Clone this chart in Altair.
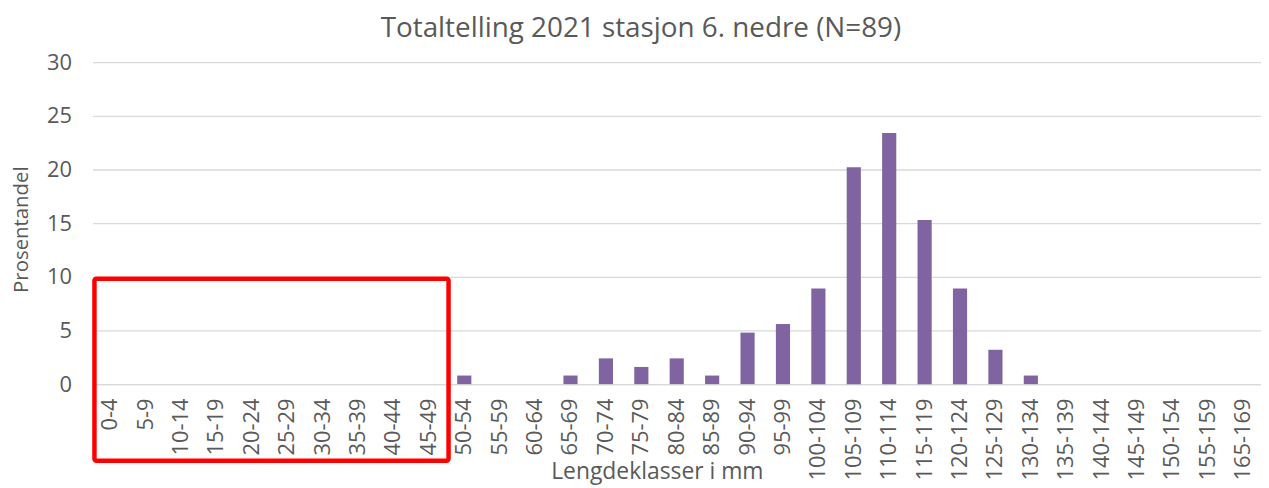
import altair as alt
import pandas as pd

categories = ["0-4", "5-9", "10-14", "15-19", "20-24", "25-29", "30-34", "35-39",
              "40-44", "45-49", "50-54", "55-59", "60-64", "65-69", "70-74", "75-79",
              "80-84", "85-89", "90-94", "95-99", "100-104", "105-109", "110-114",
              "115-119", "120-124", "125-129", "130-134", "135-139", "140-144",
              "145-149", "150-154", "155-159", "165-169"]
values = [0, 0, 0, 0, 0, 0, 0, 0, 0, 0,
          0.8, 0, 0, 0.8, 2.4, 1.6, 2.4, 0.8, 4.8, 5.6, 8.9, 20.2, 23.4,
          15.3, 8.9, 3.2, 0.8, 0, 0, 0, 0, 0, 0]
y_ticks = [0, 5, 10, 15, 20, 25, 30]

TITLE = "Totaltelling 2021 stasjon 6. nedre (N=89)"
FONT = "Open Sans"
TXT = "#595959"
GRID = "#D9D9D9"

W, H = 1176, 324
step = W / len(categories)

df = pd.DataFrame({"klasse": categories, "andel": values})

bars = alt.Chart(df).mark_bar(color="#8064A2").encode(
    x=alt.X("klasse:N", sort=categories,
            scale=alt.Scale(paddingInner=0.6, paddingOuter=0.3),
            axis=alt.Axis(title="Lengdeklasser i mm", labelAngle=-90,
                          labelFontSize=22, labelColor=TXT, labelFont=FONT,
                          labelPadding=14, ticks=False, domainColor=GRID,
                          domainWidth=1.3, titleFont=FONT, titleFontSize=23,
                          titleColor=TXT, titleFontWeight="normal",
                          titleBaseline="alphabetic", titleY=95, titleX=W / 2 - 20,
                          grid=False)),
    y=alt.Y("andel:Q", scale=alt.Scale(domain=[0, 30]),
            axis=alt.Axis(title="Prosentandel", values=y_ticks, labelFontSize=22,
                          labelColor=TXT, labelFont=FONT, labelPadding=21,
                          ticks=False, domain=False, gridColor=GRID, gridWidth=1.3,
                          titleFont=FONT, titleFontSize=20.5, titleColor=TXT,
                          titleFontWeight="normal", titleX=-71, titleY=H / 2 + 6,
                          titleBaseline="middle", titleAngle=-90)),
)

box = alt.Chart(pd.DataFrame({"a": [1]})).mark_rect(
    fill="transparent", stroke="#FF0000", strokeWidth=4.5, cornerRadius=2
).encode(
    x=alt.value(2), x2=alt.value(10 * step + 2),
    y=alt.value(218), y2=alt.value(401),
)

chart = alt.layer(bars, box).properties(
    width=W, height=H,
    title=alt.TitleParams(TITLE, font=FONT, fontSize=28, color=TXT,
                          fontWeight="normal", anchor="middle", dx=-36, offset=8),
    autosize=alt.AutoSizeParams(type="none"),
    padding={"left": 85, "top": 53, "right": 0, "bottom": 103},
).configure_view(stroke=None)

chart.save("out.html", embed_options={"renderer": "svg", "actions": False})
